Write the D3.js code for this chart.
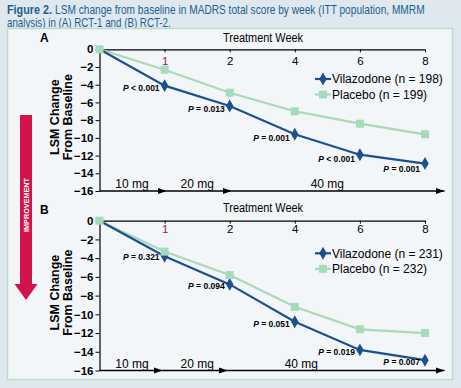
<!DOCTYPE html>
<html>
<head>
<meta charset="utf-8">
<script src="https://cdn.jsdelivr.net/npm/d3@7"></script>
<style>
  body { margin: 0; background: #dfe8ef; }
  svg { display: block; font-family: "Liberation Sans", Arial, sans-serif; }
</style>
</head>
<body>
<div id="chart"></div>
<script>
// Weeks are spaced evenly (0, 1, 2, 4, 6, 8)
const weeks = [0, 1, 2, 4, 6, 8];
const yTicks = [0, -2, -4, -6, -8, -10, -12, -14, -16];
const doses = ["10 mg", "20 mg", "40 mg"];

const vilaA = [0, -4.1, -6.4, -9.6, -11.9, -12.9];
const placA = [0, -2.3, -4.9, -7.0, -8.4, -9.6];
const pValsA = ["< 0.001", "= 0.013", "= 0.001", "< 0.001", "= 0.001"];

const vilaB = [0, -3.8, -6.8, -10.8, -13.8, -14.9];
const placB = [0, -3.3, -5.8, -9.2, -11.6, -12.0];
const pValsB = ["= 0.321", "= 0.094", "= 0.051", "= 0.019", "= 0.007"];

const blue = "#1d4f8e", green = "#a6dab8";

var width = 461, height = 388;

var svg = d3.select("#chart").append("svg")
    .attr("width", width)
    .attr("height", height);

svg.append("rect").attr("width", width).attr("height", height).attr("fill", "#dfe8ef");

// squeeze a text horizontally to a given width (the original face is condensed)
function squeeze(sel, x, y, w) {
    var natural = sel.node().getComputedTextLength();
    sel.attr("transform", "translate(" + x + "," + y + ") scale(" + (w / natural) + ",1)");
}

// Title
var t1 = svg.append("text").attr("fill", "#1b5f90").style("font-size", "12.5px")
    .style("font-weight", "bold").text("Figure 2.");
squeeze(t1, 7, 14, 45);
var t2 = svg.append("text").attr("fill", "#1b5f90").style("font-size", "12.5px")
    .text("LSM change from baseline in MADRS total score by week (ITT population, MMRM");
squeeze(t2, 55, 14, 370);
var t3 = svg.append("text").attr("fill", "#1b5f90").style("font-size", "12.5px")
    .text("analysis) in (A) RCT-1 and (B) RCT-2.");
squeeze(t3, 7, 27, 164);

// Panel box
svg.append("rect")
    .attr("x", 7.5).attr("y", 28.5)
    .attr("width", 445).attr("height", 351)
    .attr("fill", "#f3f6f9")
    .attr("stroke", "#b7dec5").attr("stroke-width", 1.5);

// Improvement arrow
var arrowPts = [[20, 115], [32, 115], [32, 284], [37.5, 284], [26, 300], [14.5, 284], [20, 284]];
svg.append("polygon")
    .attr("points", arrowPts.map(function(p) { return p.join(","); }).join(" "))
    .attr("fill", "#d3134b");
svg.append("text")
    .attr("transform", "translate(28.5,205) rotate(-90)")
    .attr("text-anchor", "middle")
    .attr("fill", "white")
    .style("font-size", "7px").style("font-weight", "bold")
    .attr("textLength", 54).attr("lengthAdjust", "spacingAndGlyphs")
    .text("IMPROVEMENT");

var defs = svg.append("defs");
defs.append("marker")
    .attr("id", "head")
    .attr("viewBox", "0 0 10 10")
    .attr("refX", 10).attr("refY", 5)
    .attr("markerWidth", 9).attr("markerHeight", 9)
    .attr("markerUnits", "userSpaceOnUse")
    .attr("orient", "auto")
    .append("path").attr("d", "M0,1.5 L10,5 L0,8.5 Z").attr("fill", "black");

function drawPanel(o) {
    var x = d3.scaleLinear().domain([0, weeks.length - 1]).range([99.5, 425]);
    var y = d3.scaleLinear().domain([0, -16]).range([o.top, o.bottom]);
    var g = svg.append("g");

    g.append("text").attr("x", 40).attr("y", o.top - 7)
        .style("font-size", "12px").style("font-weight", "bold").text(o.label);

    // y axis
    var yAxis = d3.axisLeft(y).tickValues(yTicks).tickSize(4).tickSizeOuter(0)
        .tickFormat(function(d) { return d === 0 ? "0" : "\u2212" + Math.abs(d); });
    var ya = g.append("g").attr("transform", "translate(99.5,0)").call(yAxis);
    ya.select(".domain").attr("stroke", "black").attr("stroke-width", 1.2);
    ya.selectAll("text").style("font-size", "11.5px").style("font-weight", "bold")
        .style("font-family", "'Liberation Sans', Arial, sans-serif").attr("x", -6).attr("fill", "black");

    // top axis (week ticks)
    var xAxis = d3.axisBottom(x).tickValues(d3.range(1, weeks.length)).tickSize(3).tickSizeOuter(0)
        .tickFormat(function(i) { return weeks[i]; });
    var xa = g.append("g").attr("transform", "translate(0," + y(0) + ")").call(xAxis);
    xa.select(".domain").attr("stroke", "black").attr("stroke-width", 1.2);
    xa.selectAll("text").style("font-size", "11.5px")
        .style("font-family", "'Liberation Sans', Arial, sans-serif")
        .attr("y", o.tickLabelOffset).attr("dy", "0.35em")
        .attr("fill", function(i) { return i === 1 ? "#8a1f72" : "black"; });

    g.append("text").attr("x", 263).attr("y", y(0) - o.titleOffset)
        .attr("text-anchor", "middle").style("font-size", "12px")
        .attr("textLength", 80).attr("lengthAdjust", "spacingAndGlyphs")
        .text("Treatment Week");

    // y axis title
    var yt = g.append("text").attr("transform", "translate(59," + ((o.top + o.bottom) / 2 - 3) + ") rotate(-90)")
        .attr("text-anchor", "middle").style("font-size", "12.5px").style("font-weight", "bold");
    yt.append("tspan").attr("x", 0).attr("y", 0).text("LSM Change");
    yt.append("tspan").attr("x", 0).attr("y", 13).text("From Baseline");

    // dose axis along bottom
    var by = y(-16);
    g.append("line").attr("x1", x(0)).attr("x2", x(1) + o.doseShift).attr("y1", by).attr("y2", by)
        .attr("stroke", "black").attr("stroke-width", 1.6).attr("marker-end", "url(#head)");
    g.append("line").attr("x1", x(1) + o.doseShift).attr("x2", x(2) + o.doseShift).attr("y1", by).attr("y2", by)
        .attr("stroke", "black").attr("stroke-width", 1.6).attr("marker-end", "url(#head)");
    g.append("line").attr("x1", x(2) + o.doseShift).attr("x2", x(5.3)).attr("y1", by).attr("y2", by)
        .attr("stroke", "black").attr("stroke-width", 1.6).attr("marker-end", "url(#head)");
    var dosePos = [0.5, 1.5, o.dose40];
    g.selectAll(".dose").data(doses).enter().append("text")
        .attr("x", function(d, i) { return x(dosePos[i]); })
        .attr("y", by - 3)
        .attr("text-anchor", "middle").style("font-size", "12px")
        .text(function(d) { return d; });

    var line = d3.line().x(function(d, i) { return x(i); }).y(function(d) { return y(d); });

    g.append("path").datum(o.plac).attr("d", line)
        .attr("fill", "none").attr("stroke", green).attr("stroke-width", 2.2);
    g.append("path").datum(o.vila).attr("d", line)
        .attr("fill", "none").attr("stroke", blue).attr("stroke-width", 2.2);

    var square = d3.symbol().type(d3.symbolSquare).size(64);
    var diamond = d3.symbol().type(d3.symbolDiamond).size(48);

    g.selectAll(".vm").data(o.vila.slice(1)).enter().append("path")
        .attr("d", diamond)
        .attr("transform", function(d, i) { return "translate(" + x(i + 1) + "," + y(d) + ")"; })
        .attr("fill", blue);
    g.selectAll(".pm").data(o.plac).enter().append("path")
        .attr("d", square)
        .attr("transform", function(d, i) { return "translate(" + x(i) + "," + y(d) + ")"; })
        .attr("fill", green);

    // p values
    var pt = g.selectAll(".pv").data(o.pvals).enter().append("text")
        .attr("x", function(d, i) { return x(i + 1) - 5; })
        .attr("y", function(d, i) { return y(o.vila[i + 1]) + o.pDy[i]; })
        .attr("text-anchor", "end")
        .style("font-size", "8.5px").style("font-weight", "bold");
    pt.append("tspan").style("font-style", "italic").text("P");
    pt.append("tspan").text(function(d) { return " " + d; });

    // legend
    var items = [
        { name: "Vilazodone (n = " + o.nV + ")", color: blue, sym: diamond },
        { name: "Placebo (n = " + o.nP + ")", color: green, sym: square }
    ];
    var lg = g.selectAll(".lg").data(items).enter().append("g")
        .attr("transform", function(d, i) { return "translate(315," + (o.legendY + i * 15.5) + ")"; });
    lg.append("line").attr("x1", 0).attr("x2", 16).attr("stroke", function(d) { return d.color; })
        .attr("stroke-width", 2.2);
    lg.append("path").attr("d", function(d) { return d.sym(); })
        .attr("transform", "translate(8,0)").attr("fill", function(d) { return d.color; });
    lg.append("text").attr("x", 17).attr("dy", "0.35em").style("font-size", "12px")
        .text(function(d) { return d.name; });
}

drawPanel({
    label: "A", top: 49.3, bottom: 191, vila: vilaA, plac: placA, pvals: pValsA,
    pDy: [5, 6, 7, 7, 8], nV: 198, nP: 199, legendY: 79,
    tickLabelOffset: 12, titleOffset: 7.5, doseShift: 2, dose40: 3.5
});
drawPanel({
    label: "B", top: 220.7, bottom: 370.5, vila: vilaB, plac: placB, pvals: pValsB,
    pDy: [4, 5, 5, 5, 5], nV: 231, nP: 232, legendY: 253.3,
    tickLabelOffset: 8, titleOffset: 8.5, doseShift: -2, dose40: 3.1
});
</script>
</body>
</html>
